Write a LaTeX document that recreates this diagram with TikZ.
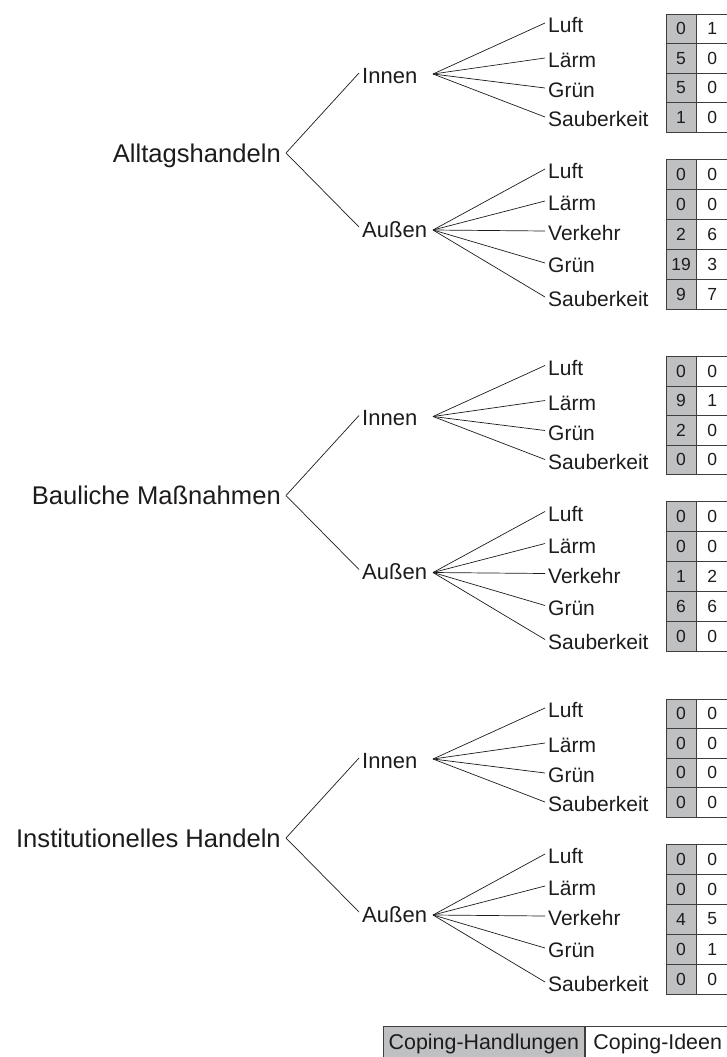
\documentclass[tikz,border=0pt]{standalone}
\usepackage{fontspec}
\setmainfont{Liberation Sans}
\usetikzlibrary{positioning}

\definecolor{cellgrey}{RGB}{191,192,194}
\definecolor{ink}{RGB}{30,27,28}

\tikzset{
    grp/.style={anchor=east, inner xsep=5pt, inner ysep=0pt, text height=18pt, text depth=0pt, font=\fontsize{25.6}{30}\selectfont},
    side/.style={anchor=west, inner xsep=3pt, inner ysep=0pt, text height=20pt, text depth=0pt, font=\fontsize{22}{26}\selectfont},
    leaf/.style={anchor=west, inner xsep=3pt, inner ysep=0pt, text height=19pt, text depth=0pt, font=\fontsize{21}{25}\selectfont},
    hcell/.style={draw=ink!85, line width=0.8pt, fill=cellgrey, minimum width=30pt, minimum height=29.5pt, inner sep=0pt, font=\fontsize{17.5}{20}\selectfont},
    icell/.style={hcell, fill=white, minimum width=31pt},
    link/.style={draw=ink, line width=0.7pt}
}

\begin{document}
\begin{tikzpicture}[x=1pt, y=-1pt, every node/.style={text=ink}]

    \useasboundingbox (0,0) rectangle (726,1057);

    \foreach \g/\name/\dy/\ti/\ta in {
        1/Alltagshandeln/0/{0/1,5/0,5/0,1/0}/{0/0,0/0,2/6,19/3,9/7},
        2/Bauliche Maßnahmen/342.5/{0/0,9/1,2/0,0/0}/{0/0,0/0,1/2,6/6,0/0},
        3/Institutionelles Handeln/685/{0/0,0/0,0/0,0/0}/{0/0,0/0,4/5,0/1,0/0}} {
    \begin{scope}[shift={(0,\dy)}]

        \node[grp] (g\g) at (286,153) {\name};
        \node[side] (g\g-i) at (359,73) {Innen};
        \node[side] (g\g-a) at (359,227) {Außen};
        \draw[link] (g\g.east) -- (g\g-i.west);
        \draw[link] (g\g.east) -- (g\g-a.west);

        \coordinate (g\g-fi) at (433,74);
        \coordinate (g\g-fa) at (433,230);

        \foreach \t/\y [count=\k] in {Luft/23, Lärm/58, Grün/88, Sauberkeit/117} {
            \node[leaf] (g\g-i\k) at (545,\y) {\t};
            \draw[link] (g\g-fi) -- (g\g-i\k.west);
        }
        \foreach \t/\y [count=\k] in {Luft/169, Lärm/201, Verkehr/231, Grün/263, Sauberkeit/297} {
            \node[leaf] (g\g-a\k) at (545,\y) {\t};
            \draw[link] (g\g-fa) -- (g\g-a\k.west);
        }

        % Handlungen | Ideen
        \foreach \h/\c [count=\k] in \ti {
            \node[hcell] (g\g-ih\k) at (681,{28.75+29.5*(\k-1)}) {\h};
            \node[icell, right=0pt of g\g-ih\k] (g\g-ic\k) {\c};
        }
        \foreach \h/\c [count=\k] in \ta {
            \node[hcell, minimum height=30pt] (g\g-ah\k) at (681,{174+30*(\k-1)}) {\h};
            \node[icell, minimum height=30pt, right=0pt of g\g-ah\k] (g\g-ac\k) {\c};
        }

    \end{scope}
    }

    % legend
    \node[hcell, anchor=north west, minimum width=201pt, minimum height=35pt, font=\fontsize{21.4}{25}\selectfont] (leg1) at (383,1026) {Coping-Handlungen};
    \node[icell, minimum width=145pt, minimum height=35pt, font=\fontsize{21.4}{25}\selectfont, right=0pt of leg1] (leg2) {Coping-Ideen};

\end{tikzpicture}
\end{document}
